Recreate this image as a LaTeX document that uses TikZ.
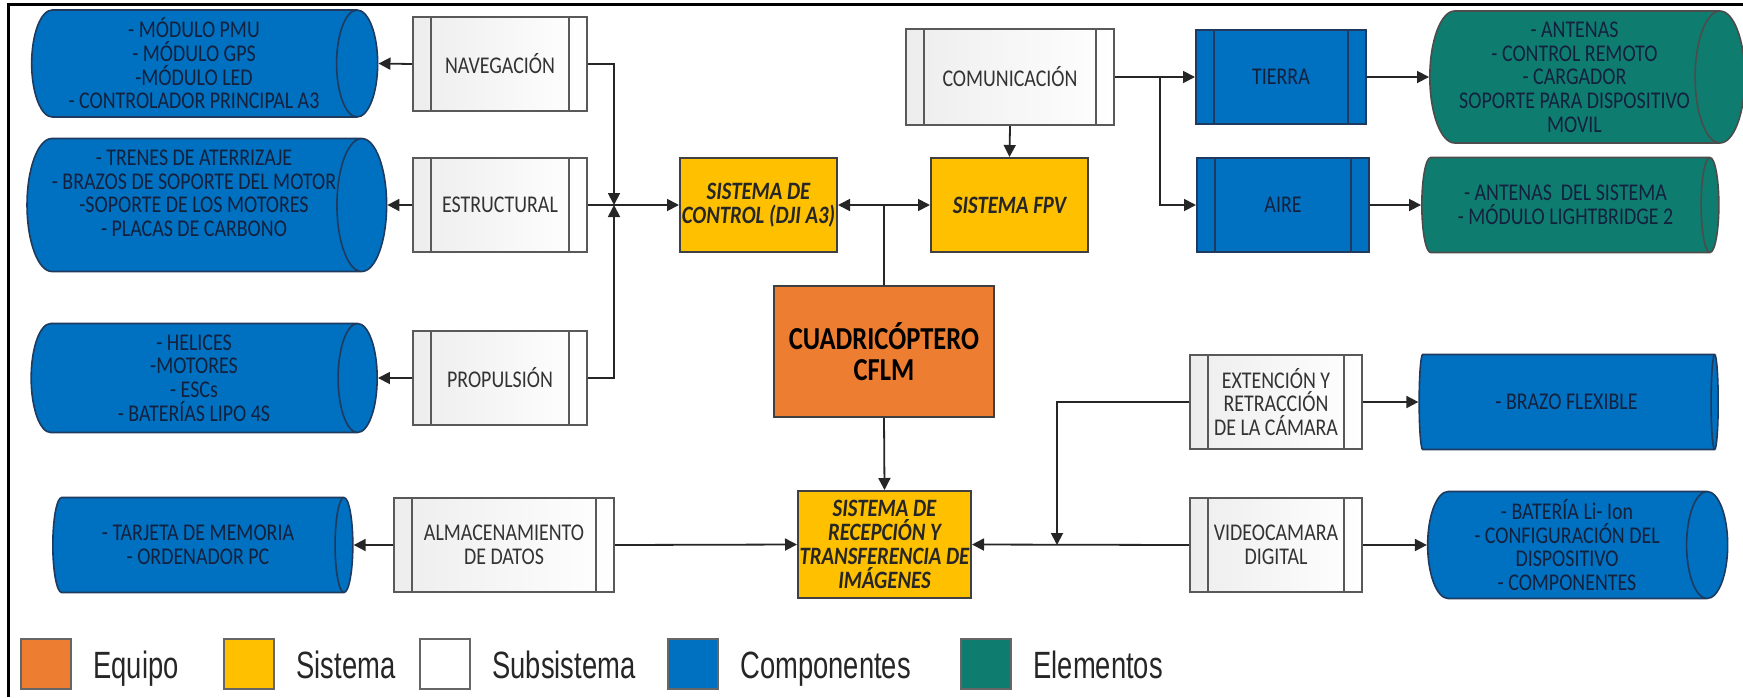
\documentclass[tikz,border=0pt]{standalone}
\usepackage{fontspec}
\setmainfont[FakeStretch=0.83]{Carlito}
\newfontfamily\legfont[FakeStretch=0.72]{Liberation Sans}
\usetikzlibrary{arrows.meta,shapes.geometric}
\definecolor{cfblue}{HTML}{0070C0}
\definecolor{cfteal}{HTML}{0F7C70}
\definecolor{cforange}{HTML}{ED7D31}
\definecolor{cfyellow}{HTML}{FFC000}
\definecolor{cfnavy}{HTML}{1F3A5F}
\definecolor{cftext}{HTML}{14213D}
\definecolor{cfgray}{HTML}{595959}

\begin{document}
\begin{tikzpicture}[x=1pt,y=-1pt,
  >={Triangle[length=12pt,width=12pt]},
  conn/.style={line width=1.8pt,draw=black!85},
  inner/.style={path picture={
    \draw[#1,line width=2pt]
      ([xshift=18pt]path picture bounding box.north west) -- ([xshift=18pt]path picture bounding box.south west)
      ([xshift=-18pt]path picture bounding box.north east) -- ([xshift=-18pt]path picture bounding box.south east);}},
  subsys/.style={draw=cfgray,line width=2pt,left color=black!7,right color=white,
    minimum width=174pt,minimum height=94pt,align=center,inner sep=0pt,
    font=\fontsize{24}{23.7}\selectfont,text=black!80,inner=cfgray},
  subblue/.style={subsys,draw=cfnavy,left color=cfblue,right color=cfblue,text=cftext,inner=cfnavy},
  sys/.style={draw=black!75,line width=2pt,fill=cfyellow,align=center,inner sep=0pt,
    minimum width=157pt,minimum height=94pt,text=black!85,
    font=\fontsize{25}{24}\selectfont\bfseries\itshape},
  equip/.style={draw=black!75,line width=2pt,fill=cforange,align=center,
    minimum width=220pt,minimum height=131pt,font=\fontsize{32}{31}\selectfont\bfseries},
  % cylinder: minimum height is the length, minimum width the diameter
  comp/.style={cylinder,aspect=0.45,draw=cfnavy,line width=1.6pt,fill=cfblue,text=cftext,
    align=center,inner sep=0pt,font=\fontsize{24}{23.7}\selectfont},
  elem/.style={comp,fill=cfteal,draw=black!70},
  legsq/.style={draw=black!60,line width=2pt,minimum width=50pt,minimum height=50pt},
  legtx/.style={anchor=base west,text=black!85,font=\legfont\fontsize{38}{38}\selectfont}
]
\useasboundingbox (0,0) rectangle (1743,697);
% frame (left and top only)
\draw[line width=3pt] (8,697) -- (8,4) -- (1743,4);

% equipment and systems
\node[equip] (cuad) at (884,351.5) {CUADRICÓPTERO\\CFLM};
\node[sys] (sc) at (758.5,205) {SISTEMA DE\\CONTROL (DJI A3)};
\node[sys] (fpv) at (1009.5,205) {SISTEMA FPV};
\node[sys,minimum width=173pt,minimum height=107pt] (srt) at (884.5,544.5)
  {SISTEMA DE\\RECEPCIÓN Y\\TRANSFERENCIA DE\\IMÁGENES};

% subsystems
\node[subsys] (nav) at (500,64) {NAVEGACIÓN};
\node[subsys] (est) at (500,205) {ESTRUCTURAL};
\node[subsys] (prop) at (500,378) {PROPULSIÓN};
\node[subsys,minimum width=220pt] (alm) at (504,545) {ALMACENAMIENTO\\DE DATOS};
\node[subsys,minimum width=208pt,minimum height=96pt] (com) at (1010,77) {COMUNICACIÓN};
\node[subsys,minimum width=172pt] (ext) at (1276,402) {EXTENCIÓN Y\\RETRACCIÓN\\DE LA CÁMARA};
\node[subsys,minimum width=172pt] (vid) at (1276,545) {VIDEOCAMARA\\DIGITAL};
\node[subblue,minimum width=170pt] (tierra) at (1281,77) {TIERRA};
\node[subblue,minimum width=172pt] (aire) at (1283,205) {AIRE};

% components (left)
\node[comp,minimum height=346pt,minimum width=107pt] (cNav) at (194,63.5)
  {- MÓDULO PMU\\- MÓDULO GPS\\-MÓDULO LED\\- CONTROLADOR PRINCIPAL A3};
\node[comp,minimum height=346pt,minimum width=133pt] (cEst) at (194,205)
  {- TRENES DE ATERRIZAJE\\- BRAZOS DE SOPORTE DEL MOTOR\\-SOPORTE DE LOS MOTORES\\- PLACAS DE CARBONO\\\mbox{}};
\node[comp,minimum height=346pt,minimum width=109pt] (cProp) at (194,378)
  {- HELICES\\-MOTORES\\- ESCs\\- BATERÍAS LIPO 4S};
\node[comp,minimum height=300pt,minimum width=95pt] (cAlm) at (198,545)
  {- TARJETA DE MEMORIA\\- ORDENADOR PC};
% components and elements (right)
\node[elem,minimum height=315pt,minimum width=132pt] (eTie) at (1574.5,77)
  {- ANTENAS\\- CONTROL REMOTO\\- CARGADOR\\SOPORTE PARA DISPOSITIVO\\MOVIL};
\node[elem,minimum height=297pt,minimum width=95pt] (eAir) at (1565.5,205)
  {- ANTENAS\ \ DEL SISTEMA\\- MÓDULO LIGHTBRIDGE 2};
\node[comp,minimum height=299pt,minimum width=95pt] (cBrz) at (1566.5,402) {- BRAZO FLEXIBLE};
\node[comp,minimum height=300pt,minimum width=107pt] (cBat) at (1567,545)
  {- BATERÍA Li- Ion\\- CONFIGURACIÓN DEL\\DISPOSITIVO\\- COMPONENTES};

% connectors
\coordinate (jn) at (614,205);
\coordinate (br) at (1160,77);
\coordinate (jc) at (1057,545);
\draw[conn,->] (nav.west) -- (cNav.east);
\draw[conn,->] (est.west) -- (cEst.east);
\draw[conn,->] (prop.west) -- (cProp.east);
\draw[conn,->] (alm.west) -- (cAlm.east);
\draw[conn,->] (nav.east) -| (jn);
\draw[conn,->] (prop.east) -| (jn);
\draw[conn,->] (est.east) -- (sc.west);
\draw[conn,<->] (sc.east) -- (fpv.west);
\draw[conn] (cuad.north) -- (cuad.north |- sc.east);
\draw[conn,->] (com.south) -- (fpv.north);
\draw[conn,->] (com.east) -- (tierra.west);
\draw[conn,->] (br) |- (aire.west);
\draw[conn,->] (tierra.east) -- (eTie.west);
\draw[conn,->] (aire.east) -- (eAir.west);
\draw[conn,->] (cuad.south) -- (srt.north);
\draw[conn,->] (alm.east) -- (srt.west);
\draw[conn,->] (vid.west) -- (srt.east);
\draw[conn,->] (ext.west) -| (jc);
\draw[conn,->] (ext.east) -- (cBrz.west);
\draw[conn,->] (vid.east) -- (cBat.west);

% legend
\foreach \n/\c/\x/\t in {lEq/cforange/46/Equipo, lSi/cfyellow/249/Sistema,
    lSu/white/445/Subsistema, lCo/cfblue/693/Componentes, lEl/cfteal/986/Elementos} {
  \node[legsq,fill=\c] (\n) at (\x,664) {};
  \node[legtx] (\n t) at ([xshift=18pt]\n.east |- 0,678) {\t};
}
\end{tikzpicture}
\end{document}
